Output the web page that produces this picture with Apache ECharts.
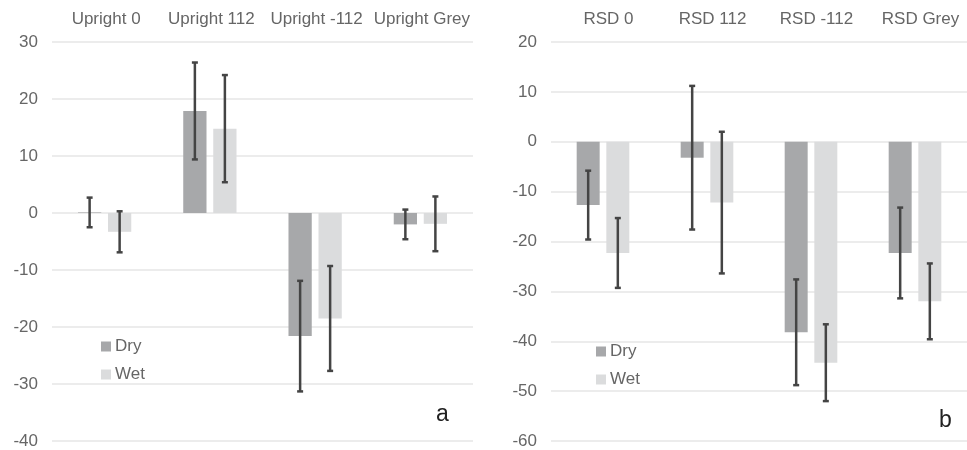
<!DOCTYPE html>
<html>
<head>
<meta charset="utf-8">
<script src="https://cdn.jsdelivr.net/npm/echarts@6/dist/echarts.min.js"></script>
<style>
  html, body { margin: 0; padding: 0; background: #fff; }
  #chart { width: 967px; height: 450px; }
</style>
</head>
<body>
<div id="chart"></div>
<script>
// Panel a: upright condition
const uprightCategories = ['Upright 0', 'Upright 112', 'Upright -112', 'Upright Grey'];
const uprightDry = [0.1, 17.9, -21.6, -2.0];
const uprightDryErr = [2.6, 8.5, 9.7, 2.6];
const uprightWet = [-3.3, 14.8, -18.5, -1.9];
const uprightWetErr = [3.6, 9.4, 9.2, 4.8];
const uprightTicks = { min: -40, max: 30, interval: 10 };

// Panel b: RSD condition
const rsdCategories = ['RSD 0', 'RSD 112', 'RSD -112', 'RSD Grey'];
const rsdDry = [-12.7, -3.2, -38.2, -22.3];
const rsdDryErr = [6.9, 14.4, 10.6, 9.1];
const rsdWet = [-22.3, -12.2, -44.3, -32.0];
const rsdWetErr = [7.0, 14.2, 7.7, 7.6];
const rsdTicks = { min: -60, max: 20, interval: 10 };

const seriesNames = ['Dry', 'Wet'];
const panelLetters = ['a', 'b'];

const DRY_COLOR = '#a7a8aa';
const WET_COLOR = '#dbdcdd';
const ERR_COLOR = '#444444';
const TEXT_COLOR = '#666666';
const FONT = 'Liberation Sans, Arial, sans-serif';

const BAR_WIDTH = 0.221;   // fraction of a category band
const BAR_GAP = 0.29;      // fraction of a bar width

const chart = echarts.init(document.getElementById('chart'), null, { renderer: 'canvas' });

// Error bar drawn at the centre of the dry (side = -1) or wet (side = +1) bar
function errorRenderer(side) {
  return function (params, api) {
    const cat = api.value(0);
    const lo = api.coord([cat, api.value(1)]);
    const hi = api.coord([cat, api.value(2)]);
    const band = api.size([1, 0])[0];
    const bw = band * BAR_WIDTH;
    const x = lo[0] + side * (bw + bw * BAR_GAP) / 2;
    const cap = 3;
    const style = { stroke: ERR_COLOR, lineWidth: 2.5 };
    return {
      type: 'group',
      children: [
        { type: 'line', shape: { x1: x, y1: lo[1], x2: x, y2: hi[1] }, style },
        { type: 'line', shape: { x1: x - cap, y1: lo[1], x2: x + cap, y2: lo[1] }, style },
        { type: 'line', shape: { x1: x - cap, y1: hi[1], x2: x + cap, y2: hi[1] }, style }
      ]
    };
  };
}

function errorData(means, errs) {
  return means.map((m, i) => [i, m - errs[i], m + errs[i]]);
}

function xAxisFor(gridIndex, categories, pad) {
  return {
    type: 'category',
    gridIndex,
    data: categories,
    position: 'top',
    axisLine: { show: false, onZero: false },
    axisTick: { show: false },
    axisLabel: {
      interval: 0,
      color: TEXT_COLOR, fontSize: 17, fontFamily: FONT, margin: 14,
      padding: [0, 0, 0, pad]
    }
  };
}

function yAxisFor(gridIndex, ticks) {
  return {
    type: 'value',
    gridIndex,
    min: ticks.min,
    max: ticks.max,
    interval: ticks.interval,
    axisLine: { show: false },
    axisTick: { show: false },
    splitLine: { lineStyle: { color: '#e6e6e6', width: 1.5 } },
    axisLabel: { color: TEXT_COLOR, fontSize: 17, fontFamily: FONT, margin: 14 }
  };
}

function barSeries(name, axisIdx, values, color) {
  return {
    name,
    type: 'bar',
    xAxisIndex: axisIdx,
    yAxisIndex: axisIdx,
    data: values,
    barWidth: (BAR_WIDTH * 100) + '%',
    barGap: (BAR_GAP * 100) + '%',
    itemStyle: { color },
    emphasis: { disabled: true }
  };
}

function errSeries(name, axisIdx, means, errs, side) {
  return {
    name,
    type: 'custom',
    xAxisIndex: axisIdx,
    yAxisIndex: axisIdx,
    renderItem: errorRenderer(side),
    encode: { x: 0, y: [1, 2] },
    data: errorData(means, errs),
    z: 5,
    silent: true
  };
}

function legendFor(left, top) {
  return {
    data: seriesNames,
    orient: 'vertical',
    left, top,
    padding: 0,
    itemWidth: 10, itemHeight: 10,
    itemGap: 11,
    icon: 'rect',
    selectedMode: false,
    textStyle: { color: TEXT_COLOR, fontSize: 17, fontFamily: FONT, padding: [0, 0, 0, -1] }
  };
}

const option = {
  backgroundColor: '#ffffff',
  animation: false,
  color: [DRY_COLOR, WET_COLOR],
  grid: [
    { left: 52, top: 42, width: 421, height: 399 },
    { left: 551, top: 42, width: 421.6, height: 399 }
  ],
  xAxis: [
    xAxisFor(0, uprightCategories, 3),
    xAxisFor(1, rsdCategories, 11)
  ],
  yAxis: [
    yAxisFor(0, uprightTicks),
    yAxisFor(1, rsdTicks)
  ],
  legend: [
    legendFor(101, 338),
    legendFor(596, 343)
  ],
  graphic: [
    { type: 'text', left: 436, top: 403, style: { text: panelLetters[0], fill: '#222', font: '23px ' + FONT } },
    { type: 'text', left: 939, top: 409, style: { text: panelLetters[1], fill: '#222', font: '23px ' + FONT } }
  ],
  series: [
    barSeries(seriesNames[0], 0, uprightDry, DRY_COLOR),
    barSeries(seriesNames[1], 0, uprightWet, WET_COLOR),
    errSeries('Dry error', 0, uprightDry, uprightDryErr, -1),
    errSeries('Wet error', 0, uprightWet, uprightWetErr, 1),
    barSeries(seriesNames[0], 1, rsdDry, DRY_COLOR),
    barSeries(seriesNames[1], 1, rsdWet, WET_COLOR),
    errSeries('Dry error', 1, rsdDry, rsdDryErr, -1),
    errSeries('Wet error', 1, rsdWet, rsdWetErr, 1)
  ]
};

chart.setOption(option);
</script>
</body>
</html>
